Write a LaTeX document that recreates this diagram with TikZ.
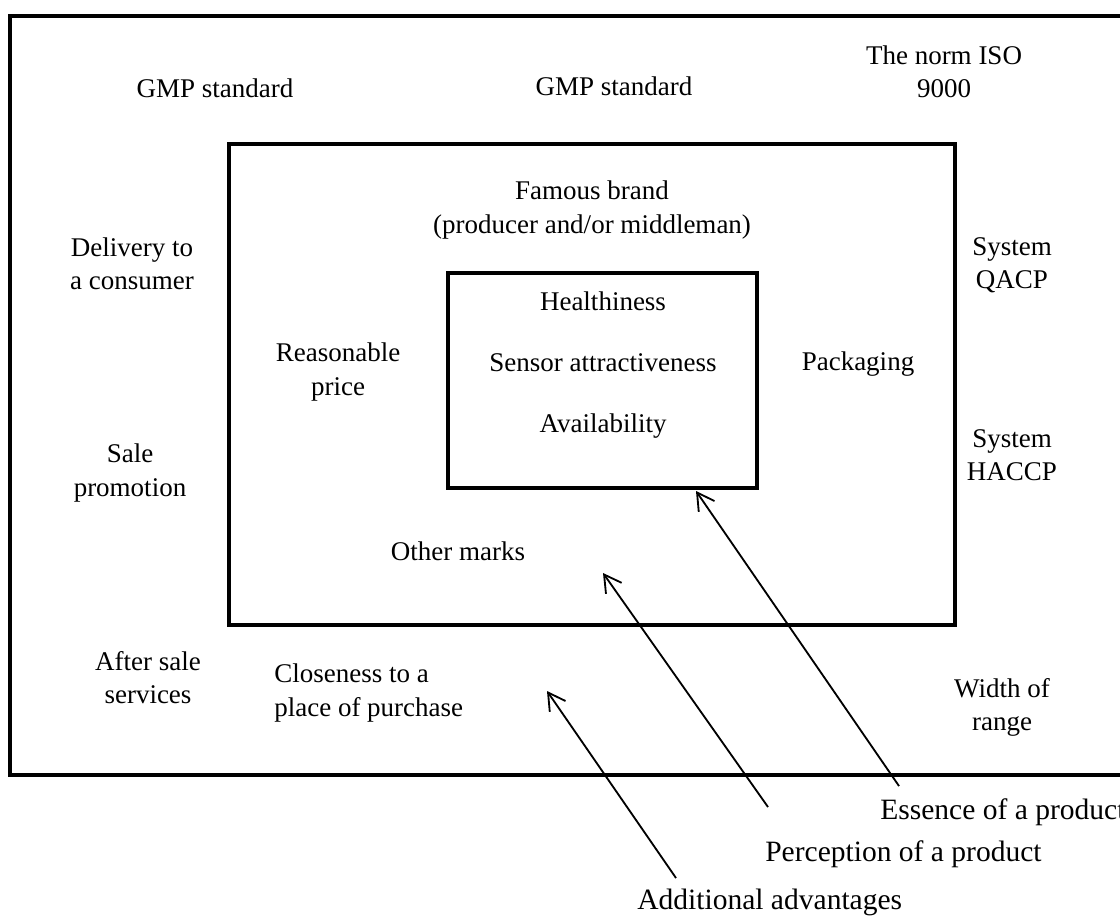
\documentclass[tikz,border=0pt]{standalone}
\usepackage{fontspec}
\setmainfont{Liberation Serif}
\usetikzlibrary{arrows.meta}
\begin{document}
\begin{tikzpicture}[x=0.025cm, y=-0.025cm,
    frame/.style={line width=2.4pt},
    lbl/.style={font=\fontsize{19.2}{23.5}\selectfont, align=center, inner sep=0pt},
    levellbl/.style={font=\fontsize{21}{25}\selectfont, anchor=west, inner sep=0pt},
    pointer/.style={line width=1.3pt, -{Straight Barb[length=12pt, width=13.6pt]}}]
    \useasboundingbox (0,0) rectangle (1120,916);

    % three levels of the product
    \draw[frame] (1140,16) -- (10,16) -- (10,775) -- (1140,775);
    \draw[frame] (229,144) rectangle (955,625);
    \draw[frame] (448,273) rectangle (757,488);

    \node[lbl] (gmpA) at (215,88) {GMP standard};
    \node[lbl] (gmpB) at (614,86) {GMP standard};
    \node[lbl] (iso) at (944,72) {The norm ISO\\9000};
    \node[lbl] (brand) at (592,210) {Famous brand\\(producer and/or middleman)};
    \node[lbl] (delivery) at (132,264) {Delivery to\\a consumer};
    \node[lbl] (qacp) at (1012,265) {System\\QACP};
    \node[lbl] (health) at (603,301) {Healthiness};
    \node[lbl] (price) at (338,372) {Reasonable\\price};
    \node[lbl] (sensor) at (603,363) {Sensor attractiveness};
    \node[lbl] (pack) at (858,364) {Packaging};
    \node[lbl] (avail) at (603,426) {Availability};
    \node[lbl] (haccp) at (1012,455) {System\\HACCP};
    \node[lbl] (promo) at (130,473) {Sale\\promotion};
    \node[lbl] (marks) at (458,551) {Other marks};
    \node[lbl] (after) at (148,678) {After sale\\services};
    \node[lbl, align=left, anchor=west] (close) at (274,693) {Closeness to a\\place of purchase};
    \node[lbl] (range) at (1002,707) {Width of\\range};

    \node[levellbl] (essence) at (880,812) {Essence of a product};
    \node[levellbl] (percept) at (765,854) {Perception of a product};
    \node[levellbl] (extra) at (637,902) {Additional advantages};

    \coordinate (essTail) at (899,786);
    \coordinate (essHead) at (696,491);
    \coordinate (perTail) at (768,807);
    \coordinate (perHead) at (603,573);
    \coordinate (addTail) at (676,878);
    \coordinate (addHead) at (547,691);
    \draw[pointer] (essTail) -- (essHead);
    \draw[pointer] (perTail) -- (perHead);
    \draw[pointer] (addTail) -- (addHead);
\end{tikzpicture}
\end{document}
